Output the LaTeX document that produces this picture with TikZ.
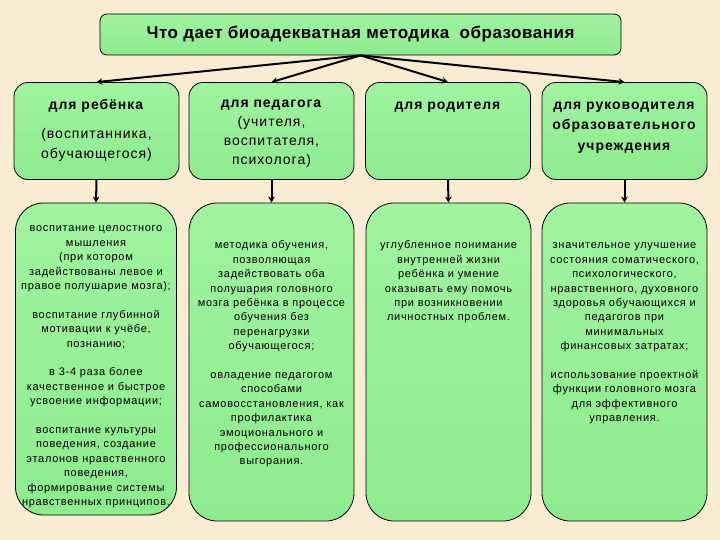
\documentclass[tikz,border=0pt]{standalone}
\usepackage{fontspec}
\setmainfont{Liberation Sans}
\newfontfamily\ttlfont[LetterSpace=3]{Liberation Sans}
\newfontfamily\grpfont[LetterSpace=7]{Liberation Sans}
\newfontfamily\itmfont[LetterSpace=6.5]{Liberation Sans}
\usetikzlibrary{arrows.meta,positioning}
\definecolor{bgbeige}{RGB}{250,235,211}
\definecolor{boxtop}{RGB}{160,243,160}
\definecolor{boxbot}{RGB}{142,235,142}

\begin{document}
\begin{tikzpicture}[x=1pt, y=-1pt,
    bx/.style={draw, line width=0.8pt, top color=boxtop, bottom color=boxbot, inner sep=0pt},
    ttl/.style={bx, rounded corners=7pt, minimum width=521pt, minimum height=41pt,
                font=\ttlfont\bfseries\fontsize{17}{20}\selectfont},
    grp/.style={bx, rounded corners=14pt, minimum width=165pt, minimum height=97pt},
    itm/.style={bx, rounded corners=28pt, minimum width=165pt},
    gtx/.style={align=center, inner sep=0pt, font=\grpfont\fontsize{14}{20}\selectfont},
    itx/.style={align=center, inner sep=0pt, font=\itmfont\fontsize{11}{14.4}\selectfont},
    e/.style={line width=2pt, -{Stealth[length=6pt, width=6.5pt]}},
  ]
  \fill[bgbeige] (0,0) rectangle (720,540);
  \useasboundingbox (0,0) rectangle (720,540);

  \node[ttl] (head) at (360.5,34.5) {Что дает биоадекватная методика\ \ образования};

  \node[grp] (gchild) at (96.5,131) {};
  \node[grp] (gteach) at (271.5,131) {};
  \node[grp] (gparent) at (448,131) {};
  \node[grp] (gchief) at (624.5,131) {};

  \node[gtx, below=13pt of gchild.north] (tchild) {\strut\textbf{для ребёнка}\\[9pt](воспитанника,\\обучающегося)};
  \node[gtx, below=11pt of gteach.north] (tteach) {\strut\textbf{для педагога}\\[-1pt](учителя,\\[-1pt]воспитателя,\\[-1pt]психолога)};
  \node[gtx, below=13pt of gparent.north] (tparent) {\strut\textbf{для родителя}};
  \node[gtx, below=13pt of gchief.north] (tchief) {\strut\textbf{для руководителя}\\[0.5pt]\textbf{образовательного}\\[0.5pt]\textbf{учреждения}};

  \node[itm, minimum width=161pt, minimum height=312pt] (lchild) at (96,359) {};
  \node[itm, minimum height=318pt] (lteach) at (271.5,362) {};
  \node[itm, minimum height=318pt] (lparent) at (448.5,362) {};
  \node[itm, minimum height=318pt] (lchief) at (624.5,362) {};

  \node[itx, below=19pt of lchild.north] (ichild) {\strut воспитание целостного\\мышления\\(при котором\\задействованы левое и\\правое полушарие мозга);\\[14.4pt]воспитание глубинной\\мотивации к учёбе,\\познанию;\\[14.4pt]в 3-4 раза более\\качественное и быстрое\\усвоение информации;\\[14.4pt]воспитание культуры\\поведения, создание\\эталонов нравственного\\поведения,\\формирование системы\\нравственных принципов.};
  \node[itx, below=36pt of lteach.north] (iteach) {\strut методика обучения,\\позволяющая\\задействовать оба\\полушария головного\\мозга ребёнка в процессе\\обучения без\\перенагрузки\\обучающегося;\\[14.4pt]овладение педагогом\\способами\\самовосстановления, как\\профилактика\\эмоционального и\\профессионального\\выгорания.};
  \node[itx, below=36pt of lparent.north] (iparent) {\strut углубленное понимание\\внутренней жизни\\ребёнка и умение\\оказывать ему помочь\\при возникновении\\личностных проблем.};
  \node[itx, below=36pt of lchief.north] (ichief) {\strut значительное улучшение\\состояния соматического,\\психологического,\\нравственного, духовного\\здоровья обучающихся и\\педагогов при\\минимальных\\финансовых затратах;\\[14.4pt]использование проектной\\функции головного мозга\\для эффективного\\управления.};

  \draw[e] (head.south) -- (gchild.north);
  \draw[e] (head.south) -- (gteach.north);
  \draw[e] (head.south) -- (gparent.north);
  \draw[e] (head.south) -- (gchief.north);
  \draw[e] (gchild.south) -- (lchild.north);
  \draw[e] (gteach.south) -- (lteach.north);
  \draw[e] (gparent.south) -- (lparent.north);
  \draw[e] (gchief.south) -- (lchief.north);
\end{tikzpicture}
\end{document}
